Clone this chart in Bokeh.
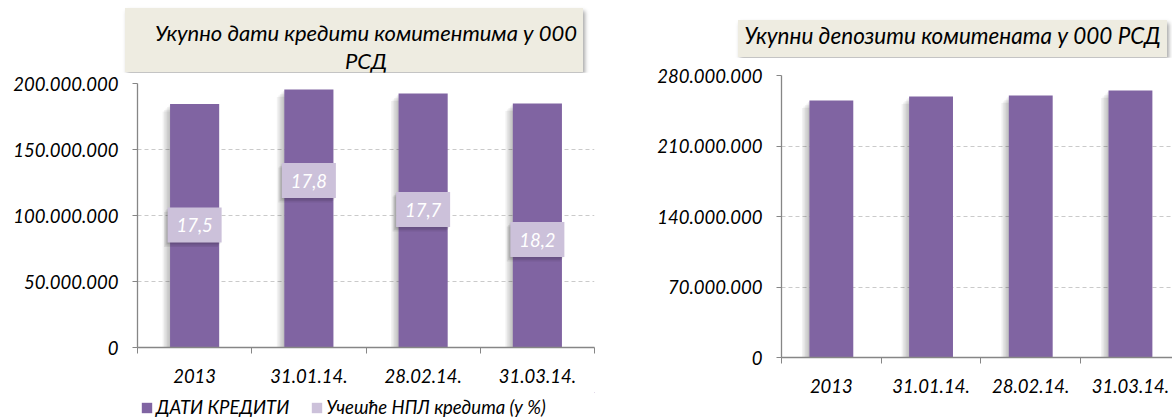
from bokeh.plotting import figure
from bokeh.models import (ColumnDataSource, Range1d, FixedTicker, Legend, LegendItem, Div)
from bokeh.layouts import row, column
from bokeh.embed import file_html
from bokeh.resources import INLINE
from bokeh.core.properties import value

# ---------------- data ----------------
categories = ["2013", "31.01.14.", "28.02.14.", "31.03.14."]
loans = [184_500_000, 195_500_000, 192_500_000, 184_800_000]
npl_share = [17.5, 17.8, 17.7, 18.2]
deposits = [255_200_000, 259_100_000, 260_100_000, 265_100_000]
loan_ticks = [0, 50_000_000, 100_000_000, 150_000_000, 200_000_000]
deposit_ticks = [0, 70_000_000, 140_000_000, 210_000_000, 280_000_000]
left_title_lines = ["Укупно дати кредити комитентима у 000", "РСД"]
right_title = "Укупни депозити комитената у 000 РСД"
legend_labels = ["ДАТИ КРЕДИТИ", "Учешће НПЛ кредита (у %)"]

# ---------------- layout / style ----------------
FONT = "Lato"
BAR = "#8064A2"
LBL = "#CCC1DA"
AXIS = "#868686"
GRID = "#CACACA"
TITLE_BG = "#EEECE1"
# NPL data-label anchors (manually placed in the original, in loan units)
npl_label_anchor = [92_800_000, 126_500_000, 104_500_000, 81_800_000]


def fmt_thousands(v):
    return f"{v:,}".replace(",", ".")


def title_div(lines, width, height, margin, pad_top, pad_left, size):
    inner = "<br>".join(lines)
    html = (f'<div style="width:{width}px;height:{height}px;box-sizing:border-box;'
            f'padding-top:{pad_top}px;padding-left:{pad_left}px;text-align:center;'
            f'font-family:{FONT};font-style:italic;font-size:{size};line-height:28px;'
            f'color:#000;white-space:nowrap;">{inner}</div>')
    return Div(text=html, width=width, height=height, margin=margin,
               styles={"background-color": TITLE_BG,
                       "box-shadow": "2px 3px 4px rgba(0,0,0,0.35)"})


def make_chart(width, height, bl, br, bt, bb, x_end, ticks):
    n = len(categories)
    p = figure(width=width, height=height, x_range=Range1d(0, x_end),
               y_range=Range1d(0, ticks[-1]), output_backend="svg",
               toolbar_location=None, min_border_left=bl, min_border_right=br,
               min_border_top=bt, min_border_bottom=bb)
    p.outline_line_color = None
    p.background_fill_color = "white"
    p.border_fill_color = "white"
    p.xgrid.visible = False
    yt = FixedTicker(ticks=ticks)
    p.yaxis.ticker = yt
    p.ygrid.ticker = yt
    p.ygrid.grid_line_color = GRID
    p.ygrid.grid_line_dash = "4 3"
    p.ygrid.grid_line_width = 1
    p.yaxis.major_label_overrides = {t: fmt_thousands(t) for t in ticks}
    xt = FixedTicker(ticks=[i + 0.5 for i in range(n)], minor_ticks=list(range(n + 1)))
    p.xaxis.ticker = xt
    p.xaxis.major_label_overrides = {i + 0.5: c for i, c in enumerate(categories)}
    for ax in (p.xaxis[0], p.yaxis[0]):
        ax.axis_line_color = AXIS
        ax.axis_line_width = 1.3
        ax.major_tick_line_color = AXIS
        ax.minor_tick_line_color = AXIS
        ax.major_label_text_font = FONT
        ax.major_label_text_font_style = "italic"
        ax.major_label_text_font_size = "18.5px"
        ax.major_label_text_color = "#000000"
        ax.major_tick_in = 0
        ax.minor_tick_in = 0
    p.yaxis.major_tick_out = 5
    p.yaxis.minor_tick_out = 0
    p.yaxis.major_label_standoff = 14
    p.xaxis.major_tick_out = 0
    p.xaxis.minor_tick_out = 6
    p.xaxis.major_label_standoff = 15
    return p


def add_bars(p, src, vals, bw, px_x, px_y):
    xs = src.data["x"]
    for k in range(1, 6):
        p.vbar(x=[x - k * 1.5 * px_x for x in xs], top=[v - k * 1.5 * px_y for v in vals],
               width=bw, fill_color="black", fill_alpha=0.05, line_color=None)
    return p.vbar(x="x", top="top", width=bw, source=src, fill_color=BAR, line_color=None)


xs = [i + 0.5 for i in range(len(categories))]

# ---------------- left column ----------------
L_CAT = 457 / len(categories)
L_YPX = loan_ticks[-1] / 264

lt = title_div(left_title_lines, 458, 64, (8, 0, 0, 125), 11, 24, "22px")

pl = make_chart(600, 320, 137, 6, 11, 45, len(categories), loan_ticks)
loan_src = ColumnDataSource(dict(x=xs, top=loans, cat=categories))
bars = add_bars(pl, loan_src, loans, 0.43, 1 / L_CAT, L_YPX)

lab_src = ColumnDataSource(dict(x=xs, y=npl_label_anchor,
                                txt=[f"{v:.1f}".replace(".", ",") for v in npl_share]))
for k in range(1, 4):
    pl.rect(x=[x - k * 1.2 / L_CAT for x in xs], y=[y - k * 1.5 * L_YPX for y in npl_label_anchor],
            width=54, height=35, width_units="screen", height_units="screen",
            fill_color="black", fill_alpha=0.07, line_color=None)
pl.rect(x="x", y="y", width=54, height=35, width_units="screen", height_units="screen",
        source=lab_src, fill_color=LBL, line_color=None)
pl.text(x="x", y="y", text="txt", source=lab_src, text_font=value(FONT),
        text_font_style="italic", text_font_size="18.5px", text_color="white",
        text_align="center", text_baseline="middle")

# legend strip (its frame aligns with the chart frame inside the column);
# proxy renderers share the chart's sources but lie just outside this strip's ranges
lg = figure(width=600, height=27, x_range=Range1d(-2, -1), y_range=Range1d(-3e8, -2e8),
            output_backend="svg", toolbar_location=None, x_axis_type=None,
            y_axis_type=None, min_border=0)
lg.outline_line_color = None
lg.grid.visible = False
lg.background_fill_color = "white"
lg.border_fill_color = "white"
r1 = lg.vbar(x="x", top="top", width=0.43, source=loan_src, fill_color=BAR, line_color=None)
r2 = lg.rect(x="x", y="y", width=54, height=35, width_units="screen", height_units="screen",
             source=lab_src, fill_color=LBL, line_color=None)
legend = Legend(items=[LegendItem(label=legend_labels[0], renderers=[r1]),
                       LegendItem(label=legend_labels[1], renderers=[r2])],
                orientation="horizontal", location=(3, 1))
legend.label_text_font = FONT
legend.label_text_font_style = "italic"
legend.label_text_font_size = "18.5px"
legend.label_text_color = "#000000"
legend.glyph_width = 13
legend.glyph_height = 13
legend.label_standoff = 3
legend.label_height = 18
legend.spacing = 21
legend.padding = 0
legend.margin = 0
legend.border_line_color = None
legend.background_fill_alpha = 0
lg.add_layout(legend)

# ---------------- right column ----------------
R_CAT = 99.7
R_YPX = deposit_ticks[-1] / 282

rt = title_div([right_title], 429, 37, (20, 0, 0, 138), 2, 0, "22.5px")

pr = make_chart(572, 362, 181, 0, 18, 62, (572 - 181) / R_CAT, deposit_ticks)
dep_src = ColumnDataSource(dict(x=xs, top=deposits, cat=categories))
add_bars(pr, dep_src, deposits, 0.44, 1 / R_CAT, R_YPX)

layout = row(column(lt, pl, lg), column(rt, pr))
open("out.html", "w").write(file_html(layout, INLINE))
